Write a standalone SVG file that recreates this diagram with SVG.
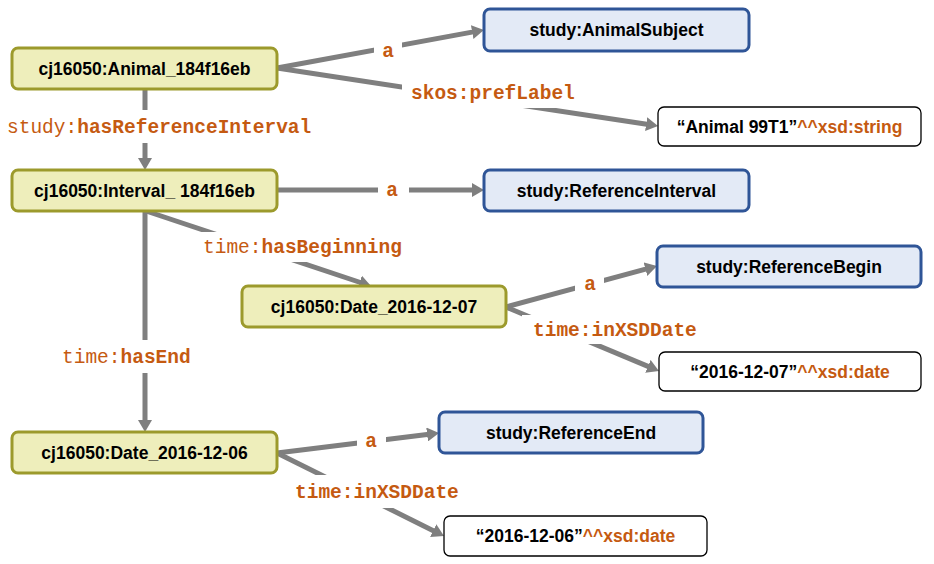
<svg xmlns="http://www.w3.org/2000/svg" width="934" height="564" viewBox="0 0 934 564">
<style>
.res rect{fill:#EEEEBB;stroke:#9C9A2C;stroke-width:3}
.cls rect{fill:#E3EAF6;stroke:#2F5597;stroke-width:3}
.lit rect{fill:#FFFFFF;stroke:#000000;stroke-width:1.3}
.nt{font-family:"Liberation Sans",Arial,sans-serif;font-weight:bold;font-size:17.5px;fill:#000;text-anchor:middle}
.dt{fill:#C55A11}
.edge{stroke:#7F7F7F;stroke-width:5;fill:none}
.lb{font-family:"Liberation Mono","Courier New",monospace;font-size:19.5px;fill:#C55A11}
.b{font-weight:bold}
.bg{fill:#FFFFFF}
</style>
<defs>
<marker id="arr" markerUnits="userSpaceOnUse" markerWidth="12" markerHeight="14" refX="4" refY="7" orient="auto">
<path d="M0,0 L12,7 L0,14 z" fill="#7F7F7F"/>
</marker>
</defs>
<rect width="934" height="564" fill="#FFFFFF"/>
<g id="connectors">
<line class="edge" x1="277" y1="68" x2="476.1" y2="31.4" marker-end="url(#arr)"/>
<line class="edge" x1="277" y1="68" x2="650.1" y2="124.8" marker-end="url(#arr)"/>
<line class="edge" x1="145" y1="89" x2="145" y2="162" marker-end="url(#arr)"/>
<line class="edge" x1="277" y1="190" x2="476" y2="190" marker-end="url(#arr)"/>
<line class="edge" x1="146" y1="211" x2="363.4" y2="283.5" marker-end="url(#arr)"/>
<line class="edge" x1="145" y1="211" x2="145" y2="424" marker-end="url(#arr)"/>
<line class="edge" x1="506" y1="307" x2="649.3" y2="268.1" marker-end="url(#arr)"/>
<line class="edge" x1="506" y1="307" x2="651.6" y2="367.9" marker-end="url(#arr)"/>
<line class="edge" x1="277" y1="453" x2="431.1" y2="434" marker-end="url(#arr)"/>
<line class="edge" x1="277" y1="453" x2="436.8" y2="532.4" marker-end="url(#arr)"/>
</g>
<g id="edge-labels">
<rect class="bg" x="374" y="40" width="28" height="22"/>
<text class="lb b" x="388" y="57" text-anchor="middle">a</text>
<rect class="bg" x="402" y="80" width="180" height="28"/>
<text class="lb b" x="411" y="99">skos:prefLabel</text>
<rect class="bg" x="5" y="110" width="310" height="33"/>
<text class="lb" x="7" y="133">study:<tspan class="b">hasReferenceInterval</tspan></text>
<rect class="bg" x="378" y="180" width="31" height="20"/>
<text class="lb b" x="392" y="196" text-anchor="middle">a</text>
<rect class="bg" x="200" y="232" width="205" height="30"/>
<text class="lb" x="203" y="253">time:<tspan class="b">hasBeginning</tspan></text>
<rect class="bg" x="58" y="340" width="134" height="33"/>
<text class="lb" x="62" y="363">time:<tspan class="b">hasEnd</tspan></text>
<rect class="bg" x="575" y="274" width="29" height="22"/>
<text class="lb b" x="590" y="290" text-anchor="middle">a</text>
<rect class="bg" x="522" y="315" width="184" height="29"/>
<text class="lb b" x="533" y="336">time:inXSDDate</text>
<rect class="bg" x="357" y="430" width="29" height="22"/>
<text class="lb b" x="371" y="447" text-anchor="middle">a</text>
<rect class="bg" x="291" y="475" width="175" height="33"/>
<text class="lb b" x="295" y="498">time:inXSDDate</text>
</g>
<g id="n-animal" class="res">
<rect x="12" y="48" width="265" height="41" rx="6"/>
<text class="nt" x="144.5" y="75">cj16050:Animal_184f16eb</text>
</g>
<g id="n-interval" class="res">
<rect x="12" y="170" width="265" height="41" rx="6"/>
<text class="nt" x="144.5" y="196.5">cj16050:Interval_ 184f16eb</text>
</g>
<g id="n-date07" class="res">
<rect x="242" y="286" width="264" height="41" rx="6"/>
<text class="nt" x="374" y="312.5">cj16050:Date_2016-12-07</text>
</g>
<g id="n-date06" class="res">
<rect x="12" y="432" width="265" height="41" rx="6"/>
<text class="nt" x="144.5" y="458.5">cj16050:Date_2016-12-06</text>
</g>
<g id="n-animalsubject" class="cls">
<rect x="484" y="9" width="265" height="42" rx="6"/>
<text class="nt" x="616.5" y="36">study:AnimalSubject</text>
</g>
<g id="n-refinterval" class="cls">
<rect x="484" y="170" width="265" height="41" rx="6"/>
<text class="nt" x="616.5" y="196.5">study:ReferenceInterval</text>
</g>
<g id="n-refbegin" class="cls">
<rect x="657" y="246" width="264" height="41" rx="6"/>
<text class="nt" x="789" y="272.5">study:ReferenceBegin</text>
</g>
<g id="n-refend" class="cls">
<rect x="439" y="412" width="264" height="41" rx="6"/>
<text class="nt" x="571" y="438.5">study:ReferenceEnd</text>
</g>
<g id="n-lit-label" class="lit">
<rect x="658" y="107" width="263" height="39" rx="6"/>
<text class="nt" x="789.5" y="132.5">“Animal 99T1”<tspan class="dt">^^xsd:string</tspan></text>
</g>
<g id="n-lit-date07" class="lit">
<rect x="659" y="352" width="262" height="39" rx="6"/>
<text class="nt" x="790" y="377.5">“2016-12-07”<tspan class="dt">^^xsd:date</tspan></text>
</g>
<g id="n-lit-date06" class="lit">
<rect x="444" y="516" width="263" height="40" rx="6"/>
<text class="nt" x="575.5" y="541.5">“2016-12-06”<tspan class="dt">^^xsd:date</tspan></text>
</g>
</svg>
